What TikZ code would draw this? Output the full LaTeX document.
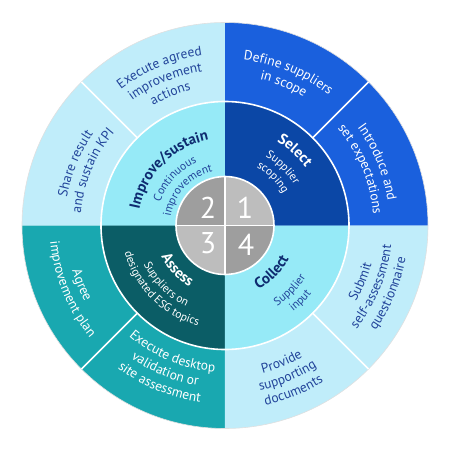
\documentclass[tikz,border=0pt]{standalone}
\usepackage{fontspec}
\setmainfont{PT Sans}
\usetikzlibrary{decorations.text}
\definecolor{outlight}{HTML}{C0EDFA}
\definecolor{midcyan}{HTML}{96EAF7}
\definecolor{outblue}{HTML}{1A60DD}
\definecolor{midblue}{HTML}{0B47A6}
\definecolor{outteal}{HTML}{19A8B0}
\definecolor{midteal}{HTML}{0B5D66}
\definecolor{graylt}{HTML}{BDBDBD}
\definecolor{graydk}{HTML}{9E9E9E}
\definecolor{navy}{HTML}{22449A}
\definecolor{navydk}{HTML}{0E2B70}
% clockwise arc text (top half): radius, centre angle, colour, font, text
\newcommand{\cwtext}[5]{\path[decorate,decoration={text along path,text align=center,text color=#3,text={|#4|#5}}]
  ({#2+55}:#1) arc[start angle={#2+55},end angle={#2-55},radius=#1];}
% counter-clockwise arc text (bottom half)
\newcommand{\ccwtext}[5]{\path[decorate,decoration={text along path,text align=center,text color=#3,text={|#4|#5}}]
  ({#2-55}:#1) arc[start angle={#2-55},end angle={#2+55},radius=#1];}
\newcommand{\fo}{\fontsize{13.5}{16}\selectfont}
\newcommand{\ft}{\fontsize{15}{17}\selectfont\bfseries}
\newcommand{\fs}{\fontsize{11.5}{13}\selectfont}
\begin{document}
\begin{tikzpicture}[x=1pt,y=1pt,
  numtxt/.style={font=\fontsize{30}{32}\selectfont,text=white,inner sep=0pt},
  sep/.style={white,line width=1.6pt}]
\useasboundingbox (-225,-224.5) rectangle (225,225.5);
\def\R{203}\def\r{124}\def\ri{49}
% outer ring quadrants
\fill[outblue] (0,0) -- (0:\R) arc[start angle=0,end angle=90,radius=\R] -- cycle;
\fill[outlight] (0,0) -- (90:\R) arc[start angle=90,end angle=180,radius=\R] -- cycle;
\fill[outteal] (0,0) -- (180:\R) arc[start angle=180,end angle=270,radius=\R] -- cycle;
\fill[outlight] (0,0) -- (270:\R) arc[start angle=270,end angle=360,radius=\R] -- cycle;
\draw[black!12,line width=0.6pt] (0,0) circle[radius=\R];
% middle ring quadrants
\fill[midblue] (0,0) -- (0:\r) arc[start angle=0,end angle=90,radius=\r] -- cycle;
\fill[midcyan] (0,0) -- (90:\r) arc[start angle=90,end angle=180,radius=\r] -- cycle;
\fill[midteal] (0,0) -- (180:\r) arc[start angle=180,end angle=270,radius=\r] -- cycle;
\fill[midcyan] (0,0) -- (270:\r) arc[start angle=270,end angle=360,radius=\r] -- cycle;
\draw[sep] (0,0) circle[radius=\r];
% outer dividers
\foreach \a in {45,135,225,315} \draw[sep] (\a:\r) -- (\a:\R);
% inner circle
\fill[graylt] (0,0) -- (0:\ri) arc[start angle=0,end angle=90,radius=\ri] -- cycle;
\fill[graydk] (0,0) -- (90:\ri) arc[start angle=90,end angle=180,radius=\ri] -- cycle;
\fill[graylt] (0,0) -- (180:\ri) arc[start angle=180,end angle=270,radius=\ri] -- cycle;
\fill[graydk] (0,0) -- (270:\ri) arc[start angle=270,end angle=360,radius=\ri] -- cycle;
\draw[sep] (-\ri,0) -- (\ri,0);
\draw[sep] (0,-\ri) -- (0,\ri);
\draw[sep] (0,0) circle[radius=\ri];
\node[numtxt] (n1) at (20,18) {1};
\node[numtxt] (n2) at (-17,18) {2};
\node[numtxt] (n3) at (-17,-18) {3};
\node[numtxt] (n4) at (21,-19) {4};
% middle texts
\cwtext{99}{47}{white}{\ft}{Select}
\cwtext{80}{45}{white}{\fs}{Supplier}
\cwtext{66}{45}{white}{\fs}{scoping}
\cwtext{87}{135}{navydk}{\ft}{Improve/sustain}
\cwtext{69}{137}{navy}{\fs}{Continuous}
\cwtext{55}{137}{navy}{\fs}{improvement}
\ccwtext{71}{223}{white}{\ft}{Assess}
\ccwtext{90}{225}{white}{\fs}{Suppliers on}
\ccwtext{104}{225}{white}{\fs}{designated ESG topics}
\ccwtext{72}{315}{navydk}{\ft}{Collect}
\ccwtext{96}{315}{navy}{\fs}{Supplier}
\ccwtext{110}{315}{navy}{\fs}{input}
% outer texts, top half
\cwtext{166.5}{67.5}{white}{\fo}{Define suppliers}
\cwtext{150.5}{67.5}{white}{\fo}{in scope}
\cwtext{164.5}{22.5}{white}{\fo}{Introduce and}
\cwtext{148.5}{22.5}{white}{\fo}{set expectations}
\cwtext{171.5}{112.5}{navy}{\fo}{Execute agreed}
\cwtext{155.5}{112.5}{navy}{\fo}{improvement}
\cwtext{139.5}{112.5}{navy}{\fo}{actions}
\cwtext{160.5}{157.5}{navy}{\fo}{Share result}
\cwtext{144.5}{157.5}{navy}{\fo}{and sustain KPI}
% outer texts, bottom half
\ccwtext{159.5}{202.5}{white}{\fo}{Agree}
\ccwtext{175.5}{202.5}{white}{\fo}{improvement plan}
\ccwtext{146.5}{247.5}{white}{\fo}{Execute desktop}
\ccwtext{162.5}{247.5}{white}{\fo}{validation or}
\ccwtext{178.5}{247.5}{white}{\fo}{site assessment}
\ccwtext{152.5}{292.5}{navy}{\fo}{Provide}
\ccwtext{168.5}{292.5}{navy}{\fo}{supporting}
\ccwtext{184.5}{292.5}{navy}{\fo}{documents}
\ccwtext{151.5}{337.5}{navy}{\fo}{Submit}
\ccwtext{167.5}{337.5}{navy}{\fo}{self-assessment}
\ccwtext{183.5}{337.5}{navy}{\fo}{questionnaire}
\end{tikzpicture}
\end{document}
